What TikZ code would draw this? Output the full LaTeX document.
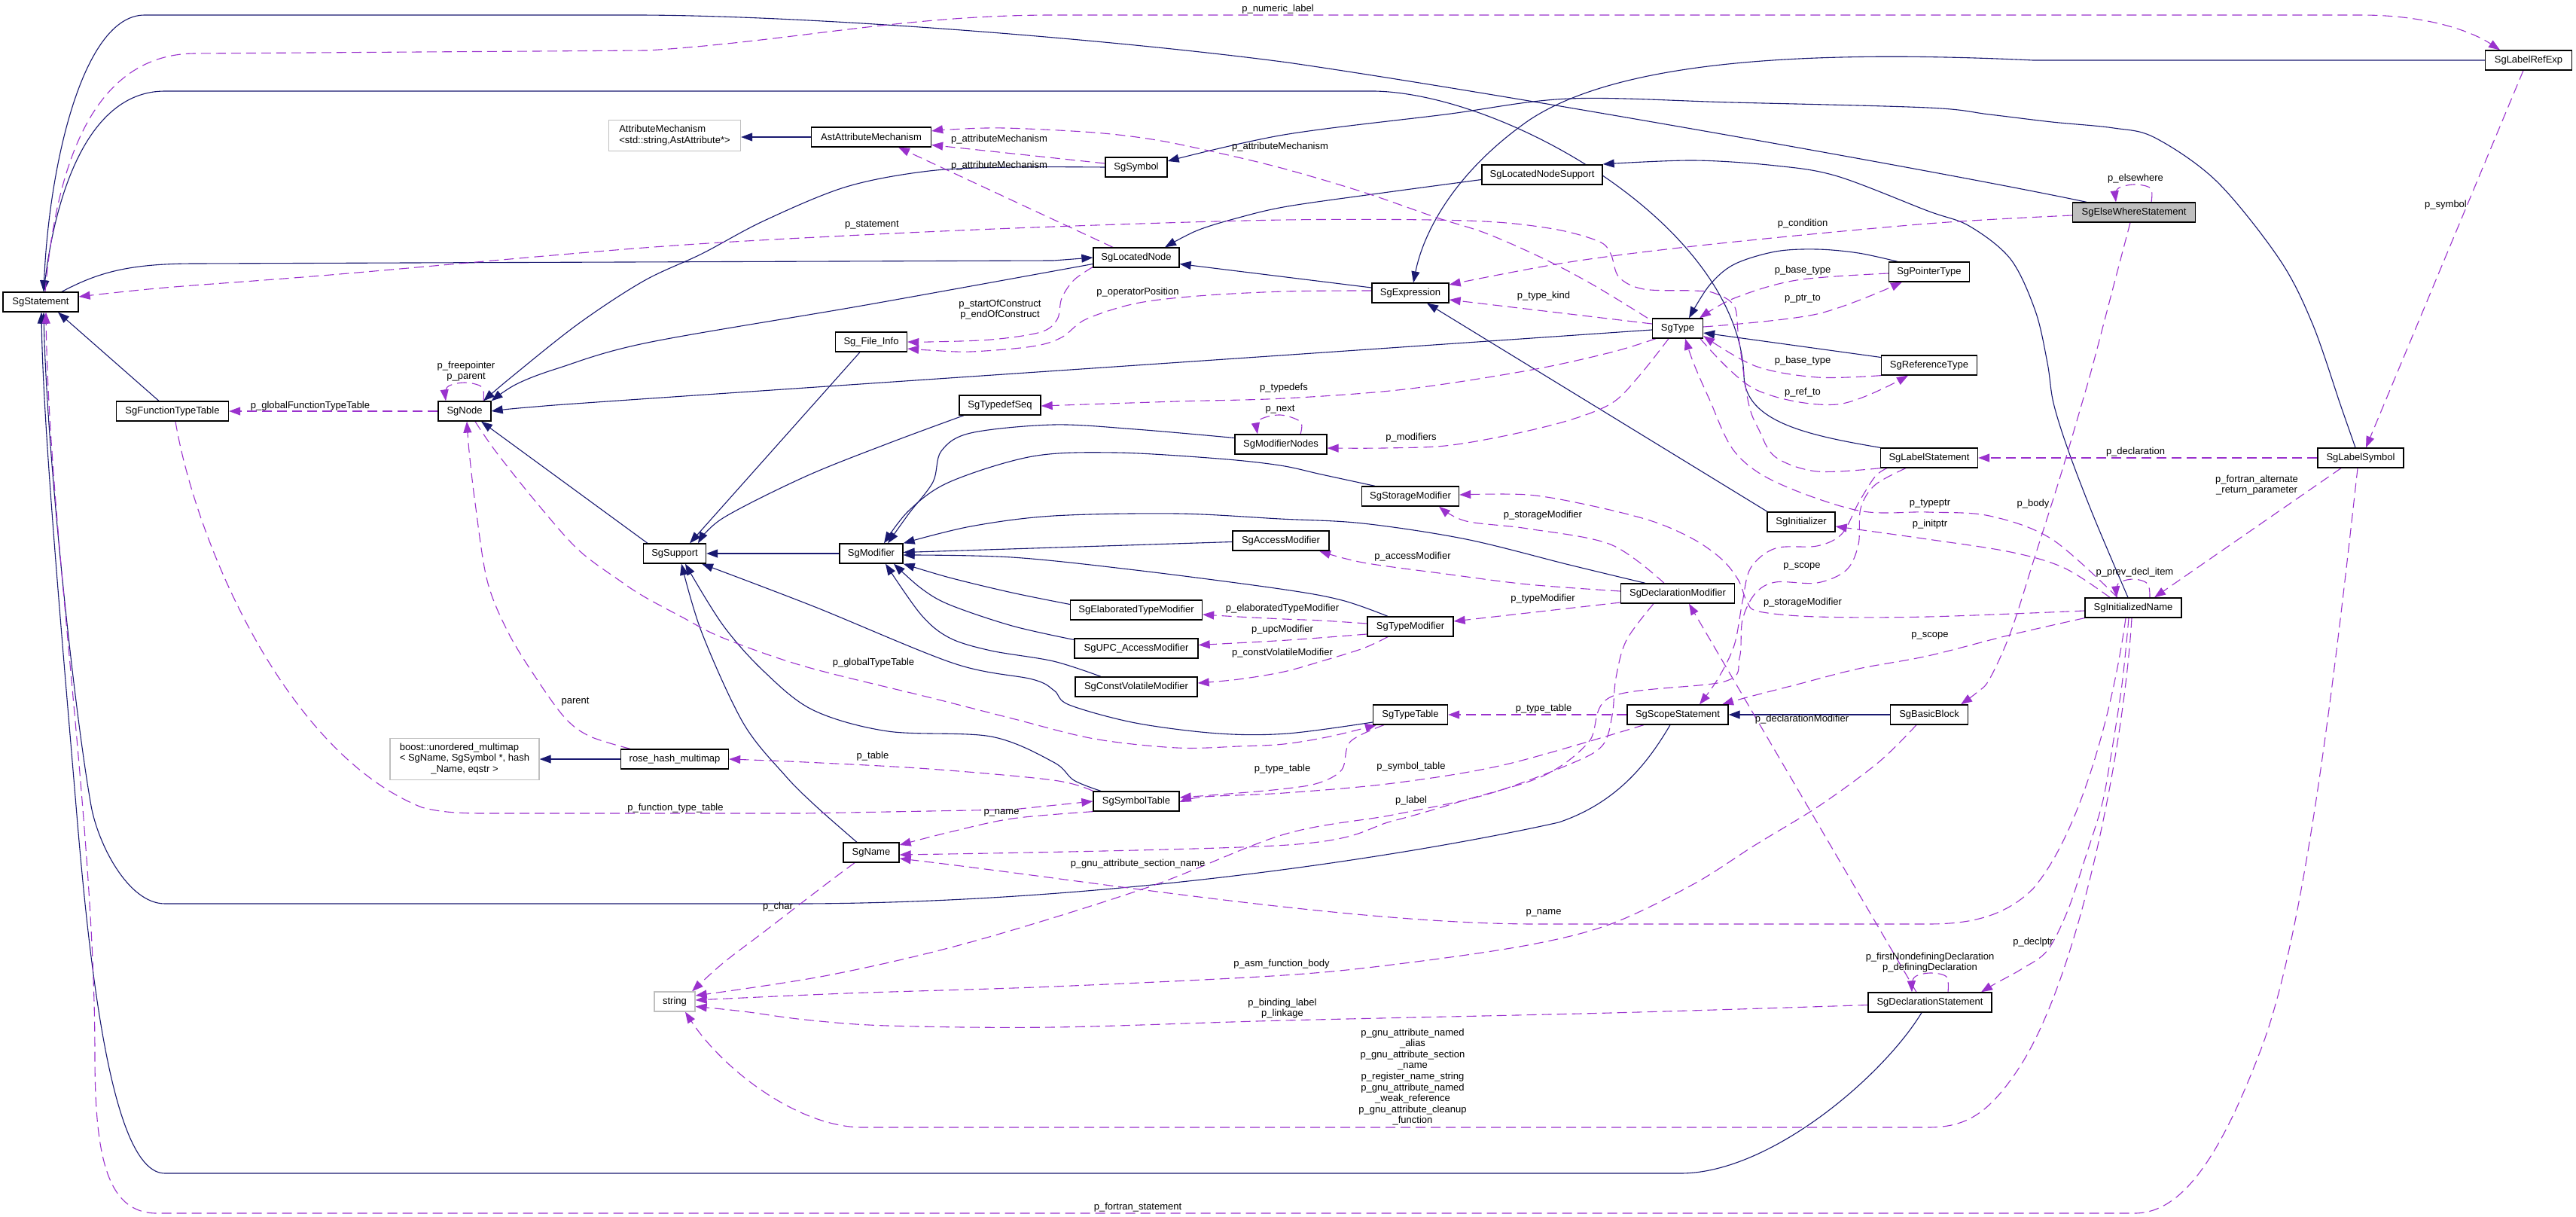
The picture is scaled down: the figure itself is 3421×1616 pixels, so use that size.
\documentclass[tikz,border=0pt]{standalone}
\usepackage{fontspec}
\setmainfont{Liberation Sans}
\usetikzlibrary{arrows.meta}
\definecolor{navyc}{HTML}{191970}
\definecolor{purplec}{HTML}{9A32CD}
\definecolor{greyc}{HTML}{BFBFBF}
\newcommand\dxfont{\fontsize{13}{14.6}\selectfont}
\pgfdeclarelayer{edges}
\pgfsetlayers{edges,main}
\begin{document}
\begin{tikzpicture}[x=1pt,y=-1pt,
  cls/.style={draw=black,line width=1.3pt,fill=white,minimum height=26pt,inner sep=0pt,font=\dxfont},
  ext/.style={draw=greyc,line width=1.3pt,fill=white,minimum height=26pt,inner sep=0pt,font=\dxfont},
  inh/.style={draw=navyc,line width=1.1pt,-{Triangle[length=15pt,width=11pt]}},
  dep/.style={draw=purplec,line width=1.1pt,dash pattern=on 13pt off 7pt,-{Triangle[length=15pt,width=11pt]}},
  lbl/.style={font=\dxfont,inner sep=0pt,align=center},
  sm/.style={smooth,tension=0.55}]
\useasboundingbox (0,0) rectangle (3421,1616);

% ---------------- nodes ----------------
\node[cls,minimum width=100pt] (stmt) at (54,401) {SgStatement};
\node[ext,minimum width=175pt,minimum height=41pt] (attrmech) at (896,180) {\begin{tabular}{@{}l@{}}AttributeMechanism\\<std::string,AstAttribute*>\end{tabular}};
\node[cls,minimum width=159pt] (astattr) at (1157,182) {AstAttributeMechanism};
\node[cls,minimum width=82pt] (symbol) at (1509,222) {SgSymbol};
\node[cls,minimum width=114pt] (locnode) at (1509,342) {SgLocatedNode};
\node[cls,minimum width=95pt] (fileinfo) at (1157,454) {Sg\_File\_Info};
\node[cls,minimum width=108pt] (typedefseq) at (1328,538) {SgTypedefSeq};
\node[cls,minimum width=160pt] (locsupport) at (2048,232) {SgLocatedNodeSupport};
\node[cls,minimum width=102pt] (expr) at (1873,389) {SgExpression};
\node[cls,minimum width=67pt] (sgtype) at (2228,436) {SgType};
\node[cls,minimum width=107pt] (ptrtype) at (2562,361) {SgPointerType};
\node[cls,minimum width=127pt] (reftype) at (2562,485) {SgReferenceType};
\node[cls,minimum width=115pt] (lrefexp) at (3358,80) {SgLabelRefExp};
\node[cls,minimum width=163pt,fill=greyc] (elsew) at (2834,282) {SgElseWhereStatement};
\node[cls,minimum width=149pt] (funtt) at (229,546) {SgFunctionTypeTable};
\node[cls,minimum width=70pt] (sgnode) at (617,546) {SgNode};
\node[ext,minimum width=198pt,minimum height=55pt] (boostmm) at (617,1008) {\begin{tabular}{@{}l@{}}boost::unordered\_multimap\\< SgName, SgSymbol *, hash\\\multicolumn{1}{@{}c@{}}{\_Name, eqstr >}\end{tabular}};
\node[cls,minimum width=143pt] (rosehash) at (896,1008) {rose\_hash\_multimap};
\node[cls,minimum width=83pt] (support) at (896,735) {SgSupport};
\node[cls,minimum width=84pt] (modifier) at (1157,735) {SgModifier};
\node[cls,minimum width=122pt] (modnodes) at (1701,590) {SgModifierNodes};
\node[cls,minimum width=128pt] (accmod) at (1701,718) {SgAccessModifier};
\node[cls,minimum width=175pt] (elabmod) at (1509,810) {SgElaboratedTypeModifier};
\node[cls,minimum width=164pt] (upcmod) at (1509,861) {SgUPC\_AccessModifier};
\node[cls,minimum width=162pt] (cvmod) at (1509,912) {SgConstVolatileModifier};
\node[cls,minimum width=114pt] (symtab) at (1509,1064) {SgSymbolTable};
\node[cls,minimum width=129pt] (stormod) at (1873,659) {SgStorageModifier};
\node[cls,minimum width=151pt] (declmod) at (2228,788) {SgDeclarationModifier};
\node[cls,minimum width=114pt] (typemod) at (1873,832) {SgTypeModifier};
\node[cls,minimum width=99pt] (typetab) at (1873,949) {SgTypeTable};
\node[cls,minimum width=134pt] (scope) at (2228,949) {SgScopeStatement};
\node[cls,minimum width=90pt] (initr) at (2392,693) {SgInitializer};
\node[cls,minimum width=129pt] (labstmt) at (2562,608) {SgLabelStatement};
\node[cls,minimum width=103pt] (bblock) at (2562,949) {SgBasicBlock};
\node[cls,minimum width=114pt] (labsym) at (3135,608) {SgLabelSymbol};
\node[cls,minimum width=128pt] (initname) at (2833,807) {SgInitializedName};
\node[cls,minimum width=164pt] (declstmt) at (2563,1331) {SgDeclarationStatement};
\node[ext,minimum width=54pt] (strg) at (896,1330) {string};
\node[cls,minimum width=74pt] (sgname) at (1157,1132) {SgName};

\begin{pgfonlayer}{edges}
% ---------------- inheritance ----------------
\draw[inh] ([xshift=-63pt]elsew.north) .. controls (2600,232) and (2000,125) .. (1710,83) .. controls (1500,55) and (1100,21) .. (850,20) -- (192,20) .. controls (110,20) and (65,220) .. ([xshift=4pt]stmt.north);
\draw[inh] (lrefexp.west) -- (2700,80) .. controls (2400,66) and (2150,80) .. (2030,160) .. controls (1930,230) and (1890,310) .. ([xshift=4pt]expr.north);
\draw[inh] plot[sm] coordinates {(symbol.west) (1344,222) (1234,227) (1124,248) (1015,293) (932,337) (855,373) (768,430) (680,500) ([xshift=25pt]sgnode.north)};
\draw[inh] plot[sm] coordinates {([xshift=-7pt]labsym.north) (3109,540) (3071,430) (3027,344) (2944,241) (2862,183) (2807,170) (2725,162) (2642,152) (2560,143) (2300,136) (2084,131) (1919,152) (1705,179) ([yshift=8pt]symbol.east)};
\draw[inh] ([xshift=28pt]stmt.north) .. controls (130,362) and (170,350) .. (260,350) -- (1399,346) -- (locnode.west);
\draw[inh] ([yshift=7pt]expr.west) -- ([yshift=-8.5pt]locnode.east);
\draw[inh] plot[sm] coordinates {([yshift=-6.5pt]locsupport.west) (1837,256) (1710,274) (1645,289) (1590,306) ([xshift=38pt]locnode.north)};
\draw[inh] plot[sm] coordinates {([yshift=-8.5pt]locnode.west) (1150,405) (860,455) (741,489) (686,510) (sgnode.north east)};
\draw[inh] plot[sm] coordinates {([yshift=-2pt]sgtype.west) (1700,472) (850,530) (700,541) (sgnode.east)};
\draw[inh] ([xshift=-36pt]support.north) -- ([xshift=22pt]sgnode.south);
\draw[inh] ([xshift=-18pt]funtt.north) -- ([xshift=23pt]stmt.south);
\draw[inh] ([xshift=-15pt]fileinfo.south) -- ([xshift=20pt]support.north);
\draw[inh] plot[sm] coordinates {([xshift=-48pt]typedefseq.south) (1179,589) (1069,633) (960,688) ([xshift=31pt]support.north)};
\draw[inh] (modifier.west) -- (support.east);
\draw[inh] plot[sm] coordinates {([yshift=-10pt]typetab.west) (1710,974) (1618,974) (1508,960) (1420,936) (1400,917) (1371,902) (1267,881) (1080,805) ([xshift=36pt]support.south)};
\draw[inh] plot[sm] coordinates {([xshift=-47pt]symtab.north) (1426,1036) (1399,1012) (1316,978) (1179,971) (1080,943) (1015,892) (960,830) ([xshift=14pt]support.south)};
\draw[inh] plot[sm] coordinates {([xshift=-19pt]sgname.north) (1083,1070) (1042,1029) (987,960) (932,840) ([xshift=9pt]support.south)};
\draw[inh] plot[sm] coordinates {([yshift=8.5pt]modnodes.west) (1508,570) (1399,564) (1289,575) (1250,599) (1239,640) (1207,682) ([xshift=22pt]modifier.north)};
\draw[inh] plot[sm] coordinates {([xshift=-47pt]stormod.north) (1755,630) (1700,618) (1618,609) (1481,601) (1371,606) (1261,640) (1207,678) ([xshift=17pt]modifier.north)};
\draw[inh] plot[sm] coordinates {([xshift=-43pt]declmod.north) (2084,750) (1947,716) (1810,695) (1700,689) (1563,682) (1399,685) (1289,699) (modifier.north east)};
\draw[inh] ([yshift=-1.5pt]accmod.west) -- ([yshift=1.5pt]modifier.east);
\draw[inh] plot[sm] coordinates {([xshift=-30pt]typemod.north) (1782,797) (1700,782) (1508,757) (1344,740) ([yshift=-2pt]modifier.east)};
\draw[inh] plot[sm] coordinates {([yshift=7.5pt]elabmod.west) (1344,787) (1261,767) (modifier.south east)};
\draw[inh] plot[sm] coordinates {([yshift=11.5pt]upcmod.west) (1344,831) (1261,803) (1223,781) ([xshift=30pt]modifier.south)};
\draw[inh] plot[sm] coordinates {([xshift=-47pt]cvmod.north) (1399,878) (1316,864) (1261,847) (1223,816) ([xshift=19pt]modifier.south)};
\draw[inh] plot[sm] coordinates {([xshift=-42pt]ptrtype.north) (2468,336) (2413,331) (2358,334) (2303,351) (2270,379) ([xshift=15pt]sgtype.north)};
\draw[inh] ([yshift=10.5pt]reftype.west) -- ([yshift=-6pt]sgtype.east);
\draw[inh] ([xshift=-45pt]initr.north) -- ([xshift=22pt]expr.south);
\draw[inh] (labstmt.north west) .. controls (2400,578) and (2318,560) .. (2316,500) .. controls (2310,300) and (2000,125) .. (1826,121) -- (219,121) .. controls (120,121) and (75,250) .. ([xshift=4pt]stmt.north);
\draw[inh] plot[sm] coordinates {([xshift=-7pt]initname.north) (2780,685) (2747,599) (2727,535) (2719,482) (2703,413) (2670,344) (2615,300) (2560,280) (2440,234) (2358,220) (2249,213) ([yshift=14pt]locsupport.east)};
\draw[inh] (bblock.west) -- (scope.east);
\draw[inh] ([xshift=-10pt]scope.south) .. controls (2190,1010) and (2150,1065) .. (2070,1092) .. controls (1900,1130) and (1500,1198) .. (1069,1200) -- (219,1200) .. controls (170,1200) and (130,1120) .. (121,1070) .. controls (98,940) and (62,600) .. ([xshift=4pt]stmt.south);
\draw[inh] ([xshift=-11pt]declstmt.south) .. controls (2500,1430) and (2350,1558) .. (2232,1558) -- (219,1558) .. controls (150,1558) and (120,1300) .. (101,1070) .. controls (80,820) and (57,560) .. ([xshift=1pt]stmt.south);
\draw[inh] (rosehash.west) -- (boostmm.east);
\draw[inh] (astattr.west) -- (astattr.west -| attrmech.east);

% ---------------- members ----------------
\draw[dep] ([xshift=6pt]stmt.north) .. controls (72,250) and (110,71) .. (260,71) -- (860,67) .. controls (1050,55) and (1200,20) .. (1399,20) -- (3136,20) .. controls (3220,20) and (3280,40) .. ([xshift=-38pt]lrefexp.north);
\draw[dep] ([yshift=5pt]symbol.west) -- ([yshift=-10.5pt]astattr.east);
\draw[dep] ([xshift=-31pt]locnode.north) -- ([xshift=36pt]astattr.south);
\draw[dep] plot[sm] coordinates {([xshift=-40pt]sgtype.north) (2117,379) (2051,344) (1974,310) (1908,289) (1810,255) (1705,224) (1618,203) (1536,186) (1453,176) (1333,170) (1261,172) ([yshift=8pt]astattr.east)};
\draw[dep] plot[sm] coordinates {(labstmt.south west) (2413,626) (2358,607) (2336,571) (2322,535) (2309,448) (2303,406) (2276,389) (2249,386) (2183,384) (2150,368) (2139,337) (2122,320) (2057,303) (1947,293) (1705,292) (1399,301) (1124,313) (855,329) (439,365) (219,382) ([yshift=7pt]stmt.east)};
\draw[dep] plot[sm] coordinates {([yshift=-12.5pt]locnode.west) (1426,372) (1410,396) (1404,424) (1382,441) (1316,451) (1234,454) (fileinfo.east)};
\draw[dep] plot[sm] coordinates {([yshift=3pt]expr.west) (1705,387) (1591,393) (1508,403) (1442,424) (1410,448) (1371,460) (1289,467) (1234,465) ([yshift=-9pt]fileinfo.east)};
\draw[dep] (sgnode.west) -- (funtt.east);
\draw[dep] plot[sm] coordinates {([xshift=25pt]sgnode.north) (640,514) (617,508) (594,514) ([xshift=-25pt]sgnode.north)};
\draw[dep] plot[sm] coordinates {([xshift=-59pt]rosehash.north) (784,978) (751,954) (713,902) (675,840) (647,771) (631,668) (623,599) ([xshift=3pt]sgnode.south)};
\draw[dep] plot[sm] coordinates {([xshift=14pt]sgnode.south) (658,599) (713,668) (768,730) (823,771) (855,792) (905,819) (960,847) (1069,885) (1234,926) (1344,954) (1453,981) (1563,993) (1645,991) (1705,988) (1766,978) ([xshift=-45pt]typetab.south)};
\draw[dep] plot[sm] coordinates {(symtab.north west) (1399,1036) (1234,1021) (1069,1012) (rosehash.east)};
\draw[dep] ([xshift=4pt]funtt.south) .. controls (260,720) and (380,1000) .. (560,1072) .. controls (590,1080) and (620,1080) .. (650,1080) -- (1069,1080) -- (1344,1075) -- (symtab.west);
\draw[dep] plot[sm] coordinates {(symtab.south west) (1344,1087) (1261,1105) ([yshift=10pt]sgname.east)};
\draw[dep] plot[sm] coordinates {([xshift=-22pt]sgname.south) (1097,1174) (1015,1237) (960,1279) ([xshift=23pt]strg.north)};
\draw[dep] plot[sm] coordinates {([xshift=-17pt]bblock.south) (2495,1012) (2416,1070) (2331,1122) (2249,1174) (2139,1227) (2029,1255) (1865,1279) (1705,1295) (1399,1310) (1124,1319) ([yshift=2pt]strg.east)};
\draw[dep] plot[sm] coordinates {([yshift=-3.5pt]declstmt.west) (2139,1345) (1705,1355) (1399,1364) (1179,1362) (1069,1354) (987,1343) ([yshift=-6.5pt]strg.east)};
\draw[dep] ([xshift=-2pt]initname.south) .. controls (2820,1000) and (2760,1300) .. (2680,1420) .. controls (2640,1480) and (2610,1497) .. (2560,1497) -- (1146,1497) .. controls (1060,1497) and (960,1420) .. ([xshift=14pt]strg.south);
\draw[dep] ([xshift=-10pt]initname.south) .. controls (2805,950) and (2760,1110) .. (2700,1180) .. controls (2660,1220) and (2610,1227) .. (2560,1227) -- (2040,1227) .. controls (1800,1227) and (1450,1170) .. ([yshift=-8pt]sgname.east);
\draw[dep] plot[sm] coordinates {([xshift=-31pt]labstmt.south) (2490,644) (2471,675) (2468,723) (2452,757) (2413,774) (2358,773) (2331,788) (2314,823) (2310,874) (2290,905) (2140,925) (2110,985) (2050,1030) (1947,1062) (1850,1090) (1710,1122) ([yshift=-3pt]sgname.east)};
\draw[dep] plot[sm] coordinates {([xshift=-32pt]declmod.south) (2160,850) (2146,900) (2141,950) (2128,990) (2084,1015) (1974,1055) (1850,1082) (1705,1108) (1525,1178) (1289,1251) (1100,1295) ([yshift=8pt]strg.east)};
\draw[dep] plot[sm] coordinates {([xshift=-45pt]scope.south) (2000,1015) (1850,1040) (1705,1053) (1600,1058) ([yshift=-1pt]symtab.east)};
\draw[dep] plot[sm] coordinates {([xshift=-35pt]typetab.south) (1793,985) (1782,1022) (1750,1040) (1700,1048) (1620,1055) ([yshift=5pt]symtab.east)};
\draw[dep] (scope.west) -- (typetab.east);
\draw[dep] ([xshift=-18pt]declstmt.north) -- ([xshift=15pt]declmod.south);
\draw[dep] plot[sm] coordinates {([xshift=-6pt]initname.south) (2818,909) (2802,1012) (2791,1070) (2769,1140) (2746,1209) (2719,1262) (2686,1286) (2650,1306) ([xshift=68pt]declstmt.north)};
\draw[dep] plot[sm] coordinates {([xshift=24pt]declstmt.north) (2585,1297) (2563,1292) (2542,1298) ([xshift=-24pt]declstmt.north)};
\draw[dep] ([xshift=-4pt]labsym.south) .. controls (3100,900) and (3060,1250) .. (3000,1400) .. controls (2950,1530) and (2900,1611) .. (2835,1611) -- (208,1611) .. controls (140,1611) and (126,1530) .. (126,1400) .. controls (126,1100) and (65,700) .. ([xshift=7pt]stmt.south);
\draw[dep] (labsym.west) -- (labstmt.east);
\draw[dep] ([xshift=-26pt]labsym.south) -- ([xshift=28pt]initname.north);
\draw[dep] ([xshift=-7pt]lrefexp.south) -- ([xshift=7pt]labsym.north);
\draw[dep] plot[sm] coordinates {([xshift=23pt]elsew.north) (2856,250) (2834,245) (2812,251) ([xshift=-24pt]elsew.north)};
\draw[dep] plot[sm] coordinates {([yshift=-4pt]elsew.west) (2560,297) (2276,324) (2084,348) ([yshift=11pt]expr.east)};
\draw[dep] plot[sm] coordinates {([xshift=-5pt]elsew.south) (2807,379) (2780,482) (2765,535) (2736,633) (2703,737) (2670,840) (2642,902) (2626,919) ([xshift=42pt]bblock.north)};
\draw[dep] ([yshift=6pt]sgtype.west) -- ([yshift=-9pt]expr.east);
\draw[dep] plot[sm] coordinates {([yshift=-2pt]ptrtype.west) (2386,372) (2303,396) ([xshift=29pt]sgtype.north)};
\draw[dep] plot[sm] coordinates {([yshift=2pt]sgtype.east) (2413,417) ([xshift=-36pt]ptrtype.south)};
\draw[dep] plot[sm] coordinates {(reftype.south west) (2413,501) (2331,486) ([yshift=-10pt]sgtype.east)};
\draw[dep] plot[sm] coordinates {([xshift=30pt]sgtype.south) (2331,517) (2440,537) ([xshift=-28pt]reftype.south)};
\draw[dep] plot[sm] coordinates {([xshift=-29pt]sgtype.south) (2139,468) (2029,492) (1865,517) (1705,529) (1563,533) ([yshift=-1pt]typedefseq.east)};
\draw[dep] plot[sm] coordinates {([xshift=-12pt]sgtype.south) (2177,499) (2141,535) (2084,558) (2002,578) (1919,592) (1837,595) ([yshift=-5pt]modnodes.east)};
\draw[dep] plot[sm] coordinates {([xshift=26pt]modnodes.north) (1727,560) (1700,551) (1672,558) ([xshift=-31pt]modnodes.north)};
\draw[dep] plot[sm] coordinates {([xshift=-18pt]declmod.north) (2139,723) (2029,702) (1947,692) ([xshift=38pt]stormod.south)};
\draw[dep] plot[sm] coordinates {([yshift=-4pt]initname.west) (2560,819) (2413,819) (2336,812) (2320,799) (2309,771) (2287,743) (2249,716) (2194,692) (2111,671) (2029,657) ([yshift=2pt]stormod.east)};
\draw[dep] plot[sm] coordinates {([yshift=3pt]declmod.west) (2029,776) (1919,762) (1810,747) ([xshift=51pt]accmod.south)};
\draw[dep] ([yshift=-12pt]declmod.west) -- ([yshift=7pt]typemod.east);
\draw[dep] plot[sm] coordinates {([yshift=4pt]typemod.west) (1755,824) (1705,822) (1645,819) ([yshift=-6pt]elabmod.east)};
\draw[dep] plot[sm] coordinates {([yshift=-10pt]typemod.west) (1710,850) ([yshift=4.5pt]upcmod.east)};
\draw[dep] plot[sm] coordinates {([xshift=-30pt]typemod.south) (1810,861) (1755,878) (1705,892) (1645,902) ([yshift=5pt]cvmod.east)};
\draw[dep] plot[sm] coordinates {([xshift=-56pt]labstmt.south) (2490,633) (2468,668) (2446,709) (2413,725) (2358,728) (2325,754) (2314,799) (2303,857) (2281,902) ([xshift=29pt]scope.north)};
\draw[dep] plot[sm] coordinates {(initname.south west) (2670,843) (2560,871) (2468,888) (2386,909) (2320,926) ([xshift=59pt]scope.north)};
\draw[dep] plot[sm] coordinates {([xshift=-21pt]initname.north) (2725,716) (2642,685) (2560,680) (2468,678) (2358,640) (2303,599) (2270,530) (2249,482) ([xshift=10pt]sgtype.south)};
\draw[dep] plot[sm] coordinates {([xshift=-31pt]initname.north) (2741,754) (2670,733) (2560,716) ([yshift=-6pt]initr.east)};
\draw[dep] plot[sm] coordinates {([xshift=22pt]initname.north) (2852,775) (2833,769) (2813,775) ([xshift=-22pt]initname.north)};
\end{pgfonlayer}

% ---------------- labels ----------------
\node[lbl] (l1) at (1697,12) {p\_numeric\_label};
\node[lbl] (l2) at (1327,185) {p\_attributeMechanism};
\node[lbl] (l3) at (1327,220) {p\_attributeMechanism};
\node[lbl] (l4) at (1700,195) {p\_attributeMechanism};
\node[lbl] (l5) at (1158,299) {p\_statement};
\node[lbl] (l6) at (1328,411) {p\_startOfConstruct\\p\_endOfConstruct};
\node[lbl] (l7) at (1511,388) {p\_operatorPosition};
\node[lbl] (l8) at (1705,515) {p\_typedefs};
\node[lbl] (l9) at (2394,297) {p\_condition};
\node[lbl] (l10) at (2050,393) {p\_type\_kind};
\node[lbl] (l11) at (2394,359) {p\_base\_type};
\node[lbl] (l12) at (2394,397) {p\_ptr\_to};
\node[lbl] (l13) at (2394,479) {p\_base\_type};
\node[lbl] (l14) at (2394,521) {p\_ref\_to};
\node[lbl] (l15) at (2836,237) {p\_elsewhere};
\node[lbl] (l16) at (3248,272) {p\_symbol};
\node[lbl] (l17) at (619,493) {p\_freepointer\\p\_parent};
\node[lbl] (l18) at (412,539) {p\_globalFunctionTypeTable};
\node[lbl] (l19) at (764,932) {parent};
\node[lbl] (l20) at (1160,880) {p\_globalTypeTable};
\node[lbl] (l21) at (1159,1004) {p\_table};
\node[lbl] (l22) at (1700,544) {p\_next};
\node[lbl] (l23) at (1703,808) {p\_elaboratedTypeModifier};
\node[lbl] (l24) at (1703,836) {p\_upcModifier};
\node[lbl] (l25) at (1703,867) {p\_constVolatileModifier};
\node[lbl] (l26) at (1703,1021) {p\_type\_table};
\node[lbl] (l27) at (1874,581) {p\_modifiers};
\node[lbl] (l28) at (2049,684) {p\_storageModifier};
\node[lbl] (l29) at (1876,739) {p\_accessModifier};
\node[lbl] (l30) at (2049,795) {p\_typeModifier};
\node[lbl] (l31) at (2050,941) {p\_type\_table};
\node[lbl] (l32) at (1874,1018) {p\_symbol\_table};
\node[lbl] (l33) at (1874,1063) {p\_label};
\node[lbl] (l34) at (2393,752) {p\_scope};
\node[lbl] (l35) at (2394,800) {p\_storageModifier};
\node[lbl] (l36) at (2393,955) {p\_declarationModifier};
\node[lbl] (l37) at (2563,669) {p\_typeptr};
\node[lbl] (l38) at (2563,696) {p\_initptr};
\node[lbl] (l39) at (2563,844) {p\_scope};
\node[lbl] (l40) at (2836,600) {p\_declaration};
\node[lbl] (l41) at (2997,644) {p\_fortran\_alternate\\\_return\_parameter};
\node[lbl] (l42) at (2700,669) {p\_body};
\node[lbl] (l43) at (2835,760) {p\_prev\_decl\_item};
\node[lbl] (l44) at (897,1073) {p\_function\_type\_table};
\node[lbl] (l45) at (1330,1079) {p\_name};
\node[lbl] (l46) at (1033,1204) {p\_char};
\node[lbl] (l47) at (1511,1147) {p\_gnu\_attribute\_section\_name};
\node[lbl] (l48) at (2050,1212) {p\_name};
\node[lbl] (l49) at (1702,1280) {p\_asm\_function\_body};
\node[lbl] (l50) at (1703,1339) {p\_binding\_label\\p\_linkage};
\node[lbl] (l51) at (1876,1430) {p\_gnu\_attribute\_named\\\_alias\\p\_gnu\_attribute\_section\\\_name\\p\_register\_name\_string\\p\_gnu\_attribute\_named\\\_weak\_reference\\p\_gnu\_attribute\_cleanup\\\_function};
\node[lbl] (l52) at (2563,1278) {p\_firstNondefiningDeclaration\\p\_definingDeclaration};
\node[lbl] (l53) at (2700,1251) {p\_declptr};
\node[lbl] (l54) at (1511,1603) {p\_fortran\_statement};
\end{tikzpicture}
\end{document}
